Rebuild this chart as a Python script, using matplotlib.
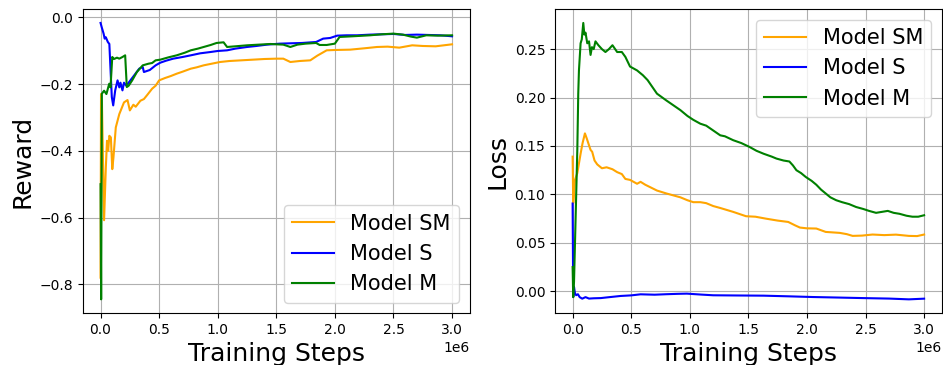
import numpy as np
import matplotlib
matplotlib.use('Agg')
import matplotlib.pyplot as plt

# training steps in millions, one list per model and metric
labels = ['Model SM', 'Model S', 'Model M']
colors = ['orange', 'blue', 'green']

# ---- reward curves ----
reward_sm_steps = [0.0, 0.004, 0.012, 0.03, 0.045, 0.055, 0.065, 0.075, 0.088, 0.10, 0.11, 0.13,
                   0.16, 0.20, 0.23, 0.25, 0.28, 0.30, 0.34, 0.37, 0.40, 0.44, 0.47, 0.50, 0.55,
                   0.60, 0.65, 0.70, 0.77, 0.82, 0.88, 0.95, 1.02, 1.10, 1.20, 1.30, 1.40, 1.50,
                   1.56, 1.62, 1.70, 1.79, 1.85, 1.93, 2.00, 2.13, 2.25, 2.36, 2.45, 2.55, 2.66,
                   2.75, 2.86, 2.93, 3.00]
reward_sm = [-0.78, -0.23, -0.26, -0.608, -0.45, -0.37, -0.40, -0.355, -0.36, -0.455, -0.42, -0.33,
             -0.29, -0.255, -0.248, -0.279, -0.262, -0.268, -0.25, -0.245, -0.232, -0.214, -0.205,
             -0.189, -0.182, -0.176, -0.169, -0.163, -0.154, -0.150, -0.144, -0.139, -0.134, -0.131,
             -0.129, -0.127, -0.125, -0.124, -0.124, -0.134, -0.131, -0.129, -0.115, -0.099, -0.098,
             -0.097, -0.093, -0.089, -0.088, -0.091, -0.084, -0.086, -0.087, -0.084, -0.081]

reward_s_steps = [0.0, 0.01, 0.026, 0.035, 0.045, 0.062, 0.075, 0.088, 0.096, 0.108, 0.125, 0.145,
                  0.16, 0.17, 0.187, 0.20, 0.22, 0.244, 0.287, 0.33, 0.36, 0.37, 0.42, 0.47, 0.51,
                  0.56, 0.62, 0.70, 0.77, 0.85, 0.94, 1.00, 1.08, 1.15, 1.25, 1.33, 1.42, 1.53,
                  1.62, 1.72, 1.84, 1.90, 1.96, 2.02, 2.10, 2.19, 2.30, 2.40, 2.50, 2.60, 2.70,
                  2.80, 2.90, 3.00]
reward_s = [-0.017, -0.03, -0.049, -0.064, -0.06, -0.074, -0.08, -0.179, -0.239, -0.264, -0.219,
            -0.189, -0.21, -0.196, -0.219, -0.196, -0.205, -0.194, -0.174, -0.154, -0.149, -0.164,
            -0.158, -0.144, -0.136, -0.130, -0.124, -0.119, -0.114, -0.108, -0.104, -0.101, -0.099,
            -0.094, -0.089, -0.086, -0.082, -0.079, -0.078, -0.077, -0.074, -0.064, -0.062, -0.055,
            -0.054, -0.054, -0.052, -0.051, -0.050, -0.053, -0.052, -0.053, -0.054, -0.057]

reward_m_steps = [0.0, 0.005, 0.011, 0.03, 0.05, 0.074, 0.085, 0.10, 0.115, 0.14, 0.16, 0.187,
                  0.21, 0.224, 0.24, 0.27, 0.31, 0.36, 0.41, 0.44, 0.47, 0.51, 0.58, 0.65, 0.72,
                  0.77, 0.83, 0.88, 0.94, 0.99, 1.05, 1.08, 1.15, 1.25, 1.35, 1.45, 1.50, 1.56,
                  1.62, 1.68, 1.75, 1.84, 1.87, 1.93, 2.00, 2.04, 2.15, 2.30, 2.40, 2.50, 2.58,
                  2.65, 2.70, 2.78, 2.88, 3.00]
reward_m = [-0.50, -0.845, -0.229, -0.22, -0.23, -0.199, -0.21, -0.119, -0.125, -0.121, -0.124,
            -0.119, -0.114, -0.209, -0.205, -0.189, -0.164, -0.144, -0.139, -0.137, -0.129, -0.127,
            -0.120, -0.114, -0.106, -0.099, -0.094, -0.089, -0.083, -0.077, -0.075, -0.089, -0.087,
            -0.084, -0.082, -0.080, -0.081, -0.082, -0.089, -0.082, -0.079, -0.077, -0.083, -0.083,
            -0.079, -0.059, -0.057, -0.054, -0.051, -0.049, -0.052, -0.058, -0.061, -0.054, -0.055,
            -0.054]

# ---- loss curves ----
loss_sm_steps = [0.0, 0.005, 0.02, 0.04, 0.068, 0.085, 0.105, 0.12, 0.139, 0.153, 0.167, 0.187,
                 0.21, 0.25, 0.29, 0.34, 0.38, 0.42, 0.45, 0.49, 0.52, 0.55, 0.58, 0.62, 0.67,
                 0.72, 0.80, 0.86, 0.92, 0.98, 1.03, 1.09, 1.14, 1.20, 1.26, 1.37, 1.48, 1.56,
                 1.65, 1.75, 1.84, 1.90, 1.94, 2.00, 2.08, 2.16, 2.28, 2.34, 2.39, 2.47, 2.56,
                 2.66, 2.76, 2.87, 2.94, 3.00]
loss_sm = [0.139, 0.091, 0.115, 0.122, 0.142, 0.153, 0.163, 0.158, 0.151, 0.146, 0.144, 0.135,
           0.131, 0.127, 0.128, 0.126, 0.123, 0.121, 0.116, 0.115, 0.113, 0.111, 0.113, 0.110,
           0.107, 0.104, 0.101, 0.099, 0.097, 0.094, 0.092, 0.092, 0.091, 0.088, 0.086, 0.082,
           0.0775, 0.077, 0.075, 0.073, 0.0716, 0.068, 0.0658, 0.065, 0.0648, 0.0613, 0.0603,
           0.059, 0.0572, 0.0575, 0.0586, 0.058, 0.0585, 0.0572, 0.057, 0.0586]

loss_s_steps = [0.0, 0.005, 0.012, 0.02, 0.03, 0.045, 0.06, 0.082, 0.11, 0.14, 0.18, 0.24, 0.30,
                0.41, 0.50, 0.58, 0.70, 0.80, 0.90, 0.975, 1.10, 1.20, 1.40, 1.63, 1.85, 2.05,
                2.25, 2.48, 2.70, 2.87, 3.00]
loss_s = [0.0906, -0.006, 0.0044, -0.002, -0.004, -0.003, -0.006, -0.0076, -0.006, -0.0075,
          -0.0072, -0.007, -0.0062, -0.0048, -0.0042, -0.0031, -0.0035, -0.0030, -0.0026, -0.0024,
          -0.0034, -0.0041, -0.0043, -0.0045, -0.0052, -0.0059, -0.0064, -0.007, -0.0075, -0.0083,
          -0.0076]

loss_m_steps = [0.0, 0.005, 0.012, 0.04, 0.048, 0.054, 0.068, 0.078, 0.091, 0.10, 0.11, 0.125,
                0.14, 0.153, 0.165, 0.18, 0.195, 0.22, 0.25, 0.28, 0.31, 0.34, 0.38, 0.42, 0.45,
                0.49, 0.55, 0.60, 0.64, 0.68, 0.72, 0.80, 0.86, 0.92, 0.98, 1.03, 1.09, 1.14,
                1.20, 1.26, 1.30, 1.37, 1.44, 1.51, 1.57, 1.63, 1.70, 1.74, 1.80, 1.85, 1.88,
                1.91, 1.95, 1.99, 2.04, 2.08, 2.12, 2.16, 2.20, 2.25, 2.30, 2.36, 2.42, 2.48,
                2.53, 2.59, 2.64, 2.69, 2.74, 2.79, 2.85, 2.90, 2.95, 3.00]
loss_m = [0.025, -0.006, 0.01, 0.146, 0.204, 0.228, 0.256, 0.26, 0.277, 0.265, 0.267, 0.256,
          0.258, 0.244, 0.252, 0.250, 0.258, 0.254, 0.250, 0.247, 0.250, 0.254, 0.247, 0.247,
          0.242, 0.232, 0.228, 0.223, 0.218, 0.211, 0.204, 0.197, 0.192, 0.187, 0.181, 0.177,
          0.173, 0.171, 0.166, 0.161, 0.160, 0.156, 0.153, 0.149, 0.145, 0.142, 0.139, 0.137,
          0.135, 0.134, 0.130, 0.125, 0.122, 0.118, 0.114, 0.110, 0.105, 0.101, 0.097, 0.094,
          0.092, 0.090, 0.087, 0.085, 0.083, 0.081, 0.082, 0.083, 0.081, 0.080, 0.078, 0.077,
          0.077, 0.0785]

reward_runs = [(reward_sm_steps, reward_sm), (reward_s_steps, reward_s), (reward_m_steps, reward_m)]
loss_runs = [(loss_sm_steps, loss_sm), (loss_s_steps, loss_s), (loss_m_steps, loss_m)]

fig = plt.figure(figsize=(9.43, 3.65), dpi=100)
ax1 = fig.add_axes([0.088, 0.142, 0.410, 0.833])
ax2 = fig.add_axes([0.5886, 0.142, 0.410, 0.833])

for ax, runs, ylabel, loc in [(ax1, reward_runs, 'Reward', 'lower right'),
                              (ax2, loss_runs, 'Loss', 'upper right')]:
    for (steps, vals), label, color in zip(runs, labels, colors):
        ax.plot(np.array(steps) * 1e6, vals, color=color, linewidth=1.5, label=label)
    ax.set_xlabel('Training Steps', fontsize=18)
    ax.set_ylabel(ylabel, fontsize=18)
    ax.grid(True)
    ax.legend(loc=loc, fontsize=15)

plt.savefig('out.png', dpi=100)
plt.close()
